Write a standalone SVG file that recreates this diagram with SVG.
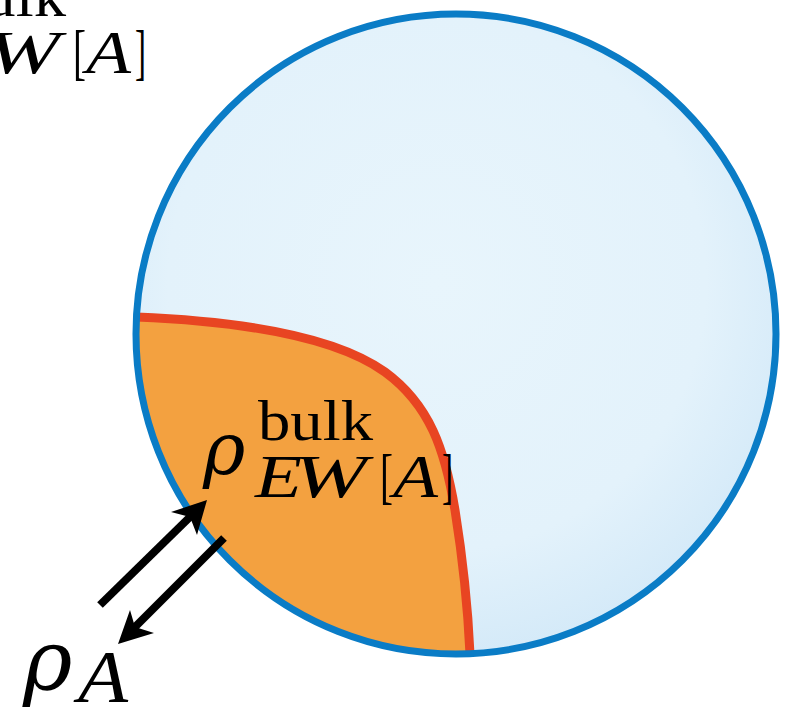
<svg xmlns="http://www.w3.org/2000/svg" width="798" height="709" viewBox="0 0 798 709">
<defs>
<radialGradient id="ball" cx="0.47" cy="0.42" r="0.6">
<stop offset="0" stop-color="#E8F5FC"/>
<stop offset="0.7" stop-color="#E3F2FB"/>
<stop offset="1" stop-color="#D3E9F8"/>
</radialGradient>
<style>
.math{font-family:"Liberation Serif","Times New Roman",serif;fill:#000}
.it{font-style:italic}
.rho{font-family:"DejaVu Serif","Liberation Serif",serif;font-style:italic}
.arrowline{stroke:#000;stroke-width:8;fill:none;stroke-linecap:butt}
.head{fill:#000}
</style>
</defs>
<rect width="798" height="709" fill="#fff"/>
<g id="bulk-ball">
<circle cx="456" cy="334" r="320" fill="url(#ball)"/>
</g>
<g id="entanglement-wedge">
<path d="M136.5,317 C260,322 340,340 385,372 C430,405 445,450 455,510 C463,560 468,610 470,654 A320,320 0 0 1 136.5,317 Z" fill="#F3A140"/>
</g>
<g id="rt-surface">
<path d="M136.5,317 C260,322 340,340 385,372 C430,405 445,450 455,510 C463,560 468,610 470,654" fill="none" stroke="#E84522" stroke-width="9"/>
</g>
<g id="boundary">
<circle cx="456" cy="334" r="320" fill="none" stroke="#0A7CC6" stroke-width="7"/>
</g>
<g id="label-top-left" class="math">
<text x="-49" y="16" font-size="58" textLength="115" lengthAdjust="spacingAndGlyphs">bulk</text>
<text class="it" x="-14" y="73" font-size="62" textLength="74" lengthAdjust="spacingAndGlyphs">W</text>
<text x="73" y="73" font-size="62" textLength="13" lengthAdjust="spacingAndGlyphs">[</text>
<text class="it" x="86" y="73" font-size="62" textLength="45" lengthAdjust="spacingAndGlyphs">A</text>
<text x="135" y="73" font-size="62" textLength="11" lengthAdjust="spacingAndGlyphs">]</text>
</g>
<g id="label-bulk" class="math">
<text class="rho" x="203" y="474" font-size="72">ρ</text>
<text x="258" y="440" font-size="58" textLength="115" lengthAdjust="spacingAndGlyphs">bulk</text>
<text class="it" x="255" y="497" font-size="62" textLength="47" lengthAdjust="spacingAndGlyphs">E</text>
<text class="it" x="293" y="497" font-size="62" textLength="74" lengthAdjust="spacingAndGlyphs">W</text>
<text x="380" y="497" font-size="62" textLength="13" lengthAdjust="spacingAndGlyphs">[</text>
<text class="it" x="393" y="497" font-size="62" textLength="45" lengthAdjust="spacingAndGlyphs">A</text>
<text x="442" y="497" font-size="62" textLength="11" lengthAdjust="spacingAndGlyphs">]</text>
</g>
<g id="label-rhoA" class="math">
<text class="rho" x="23" y="689" font-size="84">ρ</text>
<text class="it" x="78" y="702" font-size="74" textLength="50" lengthAdjust="spacingAndGlyphs">A</text>
</g>
<g id="connectors">
<line class="arrowline" x1="100" y1="605" x2="192" y2="515"/>
<polygon class="head" points="207,500 171,512 190,517 197,535"/>
<line class="arrowline" x1="224" y1="538" x2="133" y2="629"/>
<polygon class="head" points="118,644 130,610 135,627 154,633"/>
</g>
</svg>
